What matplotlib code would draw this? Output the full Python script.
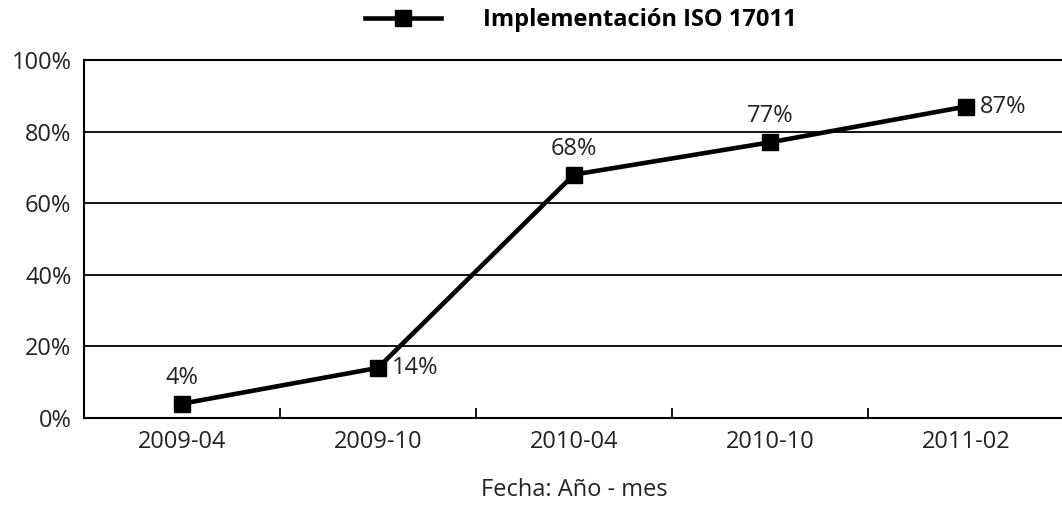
import matplotlib.pyplot as plt
from matplotlib.ticker import FuncFormatter, FixedLocator

fechas = ["2009-04", "2009-10", "2010-04", "2010-10", "2011-02"]
avance = [4, 14, 68, 77, 87]
serie = "Implementación ISO 17011"
# where each value label sits relative to its point
posicion = ["arriba", "derecha", "arriba", "arriba", "derecha"]

plt.rcParams["font.family"] = ["Open Sans", "DejaVu Sans"]
fs = 17

fig = plt.figure(figsize=(10.62, 5.08), dpi=100)
ax = fig.add_axes([84 / 1062, 1 - 418 / 508, 980 / 1062, 358 / 508])

x = list(range(len(fechas)))
ax.plot(x, avance, color="black", lw=3.3, marker="s", ms=12, label=serie,
        clip_on=False, zorder=3)

for xi, v, p in zip(x, avance, posicion):
    if p == "arriba":
        ax.annotate(f"{v}%", (xi, v), xytext=(0, 10), textcoords="offset points",
                    ha="center", va="bottom", fontsize=fs, color="#222222")
    else:
        ax.annotate(f"{v}%", (xi, v), xytext=(10, 0), textcoords="offset points",
                    ha="left", va="center", fontsize=fs, color="#222222")

ax.set_xlim(-0.5, len(fechas) - 0.5)
ax.set_ylim(0, 100)
ax.set_yticks(range(0, 101, 20))
ax.yaxis.set_major_formatter(FuncFormatter(lambda v, _: f"{v:.0f}%"))
ax.grid(axis="y", color="black", lw=1.3)
ax.tick_params(axis="y", length=0, labelsize=fs, pad=9, labelcolor="#222222")

ax.set_xticks(x)
ax.set_xticklabels(fechas)
ax.xaxis.set_minor_locator(FixedLocator([i + 0.5 for i in x[:-1]]))
ax.tick_params(axis="x", which="major", length=0, labelsize=fs, pad=9,
               labelcolor="#222222")
ax.tick_params(axis="x", which="minor", direction="in", length=7, width=1.3)
ax.set_xlabel("Fecha: Año - mes", fontsize=fs, labelpad=17, color="#222222")

for s in ["left", "bottom", "top"]:
    ax.spines[s].set_linewidth(1.5)
ax.spines["right"].set_visible(False)

leg = fig.legend(loc="center", bbox_to_anchor=(581 / 1062, 1 - 20 / 508), frameon=False,
                 handlelength=3.2, handletextpad=1.8, prop={"weight": "bold", "size": fs})

fig.savefig("out.png", dpi=100)
